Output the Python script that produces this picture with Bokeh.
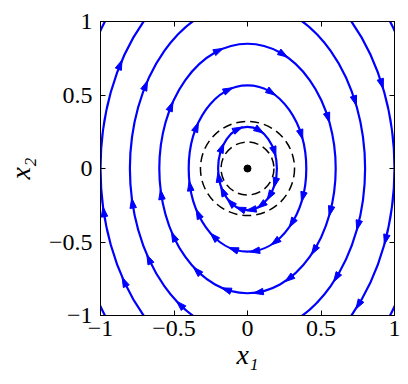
import numpy as np
from bokeh.plotting import figure
from bokeh.models import LinearAxis, FixedTicker, CustomJSTickFormatter
from bokeh.embed import file_html
from bokeh.resources import INLINE

# ---- data ----
semi_x1 = [0.2, 0.4, 0.6, 0.8, 1.0, 1.2]          # half-width of each blue trajectory
semi_x2 = [0.283, 0.566, 0.849, 1.131, 1.414, 1.697]  # half-height of each blue trajectory
arrow_phase_deg = [24, 66, 110, 131, 152, 173, 194, 215, 237, 258, 300, 341]  # clockwise from top
circle_radii = [0.18, 0.32]
eq_x1 = [0.0]
eq_x2 = [0.0]
tick_values = [-1, -0.5, 0, 0.5, 1]
tick_labels = ["\u22121", "\u22120.5", "0", "0.5", "1"]
x_title = "x\u2081"
y_title = "x\u2082"

BLUE = "#0000ff"
FONT = "Liberation Serif"
PX = 147.0  # pixels per data unit (used only to size the arrowheads)

p = figure(frame_width=294, frame_height=294, x_range=(-1, 1), y_range=(-1, 1),
           output_backend="svg", toolbar_location=None,
           min_border_left=100, min_border_right=14, min_border_top=21, min_border_bottom=69)
p.grid.visible = False
p.outline_line_color = "black"
p.outline_line_width = 1
p.background_fill_color = "white"
p.border_fill_color = "white"

overrides = {v: t for v, t in zip(tick_values, tick_labels)}
for ax in (p.xaxis[0], p.yaxis[0]):
    ax.ticker = FixedTicker(ticks=tick_values)
    ax.major_label_overrides = overrides
    ax.major_tick_in = 5
    ax.major_tick_out = 0
    ax.minor_tick_line_color = None
    ax.axis_line_color = "black"
    ax.major_label_text_font = FONT
    ax.major_label_text_font_size = "24px"
    ax.major_label_text_color = "black"
    ax.axis_label_text_font = FONT
    ax.axis_label_text_font_size = "28px"
    ax.axis_label_text_font_style = "italic"
    ax.axis_label_text_color = "black"
p.xaxis[0].major_label_standoff = 5
p.yaxis[0].major_label_standoff = 8
p.xaxis[0].axis_label = x_title
p.yaxis[0].axis_label = y_title
p.xaxis[0].axis_label_standoff = 0
p.yaxis[0].axis_label_standoff = 10

for side in ("right", "above"):
    ax = LinearAxis(ticker=FixedTicker(ticks=tick_values),
                    formatter=CustomJSTickFormatter(code="return ''"),
                    major_tick_in=5, major_tick_out=0, minor_tick_line_color=None,
                    major_label_standoff=0, major_label_text_font_size="1px",
                    axis_line_color="black")
    p.add_layout(ax, side)

# blue trajectories
n = len(semi_x1)
p.ellipse(x=[0.0] * n, y=[0.0] * n, width=[2 * a for a in semi_x1],
          height=[2 * b for b in semi_x2], fill_color=None,
          line_color=BLUE, line_width=2.2)

# arrowheads
L = 10 / PX
W = 6.5 / PX
xs, ys = [], []
for a, b in zip(semi_x1, semi_x2):
    for ph in arrow_phase_deg:
        th = np.radians(ph)
        cx, cy = a * np.sin(th), b * np.cos(th)
        if abs(cx) > 0.985 or abs(cy) > 0.985:
            continue
        tx, ty = a * np.cos(th), -b * np.sin(th)
        nrm = np.hypot(tx, ty)
        tx, ty = tx / nrm, ty / nrm
        nx, ny = -ty, tx
        tipx, tipy = cx + tx * L * 0.5, cy + ty * L * 0.5
        bx, by = cx - tx * L * 0.5, cy - ty * L * 0.5
        xs.append([tipx, bx + nx * W / 2, bx - nx * W / 2])
        ys.append([tipy, by + ny * W / 2, by - ny * W / 2])
p.patches(xs, ys, fill_color=BLUE, line_color=BLUE, line_width=1)

# dashed circles
m = len(circle_radii)
p.ellipse(x=[0.0] * m, y=[0.0] * m, width=[2 * r for r in circle_radii],
          height=[2 * r for r in circle_radii], fill_color=None,
          line_color="black", line_width=1.5, line_dash="9 5")

# equilibrium point
p.scatter(eq_x1, eq_x2, size=7, color="black")

open("out.html", "w").write(file_html(p, INLINE))
